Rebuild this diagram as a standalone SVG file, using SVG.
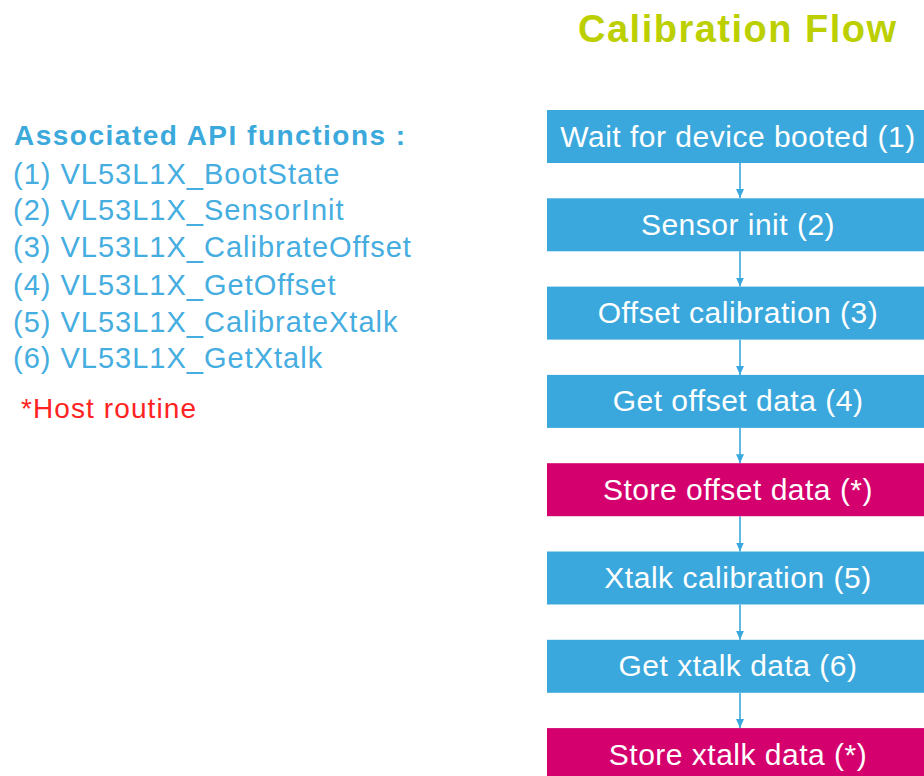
<svg xmlns="http://www.w3.org/2000/svg" width="924" height="776" viewBox="0 0 924 776">
<defs>
<style>
.box{fill:#3aa8dc}
.host{fill:#d4006e}
.bt{font-family:"Liberation Sans",Arial,sans-serif;font-size:30px;letter-spacing:0.5px;fill:#ffffff;text-anchor:middle}
.api{font-family:"Liberation Sans",Arial,sans-serif;font-size:29px;letter-spacing:1px;fill:#45ade0}
.conn{stroke:#3aa8dc;stroke-width:1.6;fill:none}
</style>
<marker id="ah" markerWidth="10" markerHeight="8" refX="9" refY="4" orient="auto" markerUnits="userSpaceOnUse">
<path d="M0,0 L9,4 L0,8 Z" fill="#3aa8dc"/>
</marker>
</defs>
<rect width="924" height="776" fill="#ffffff"/>
<text x="578" y="42" font-family="'Liberation Sans',Arial,sans-serif" font-size="38" font-weight="bold" letter-spacing="1.5" fill="#bccf00">Calibration Flow</text>
<g id="legend">
<text x="14" y="145" font-family="'Liberation Sans',Arial,sans-serif" font-size="28" font-weight="bold" letter-spacing="1.5" fill="#3ca9dc">Associated API functions :</text>
<text class="api" x="13" y="184">(1) VL53L1X_BootState</text>
<text class="api" x="13" y="220">(2) VL53L1X_SensorInit</text>
<text class="api" x="13" y="257">(3) VL53L1X_CalibrateOffset</text>
<text class="api" x="13" y="295">(4) VL53L1X_GetOffset</text>
<text class="api" x="13" y="332">(5) VL53L1X_CalibrateXtalk</text>
<text class="api" x="13" y="368">(6) VL53L1X_GetXtalk</text>
<text x="21" y="418" font-family="'Liberation Sans',Arial,sans-serif" font-size="28" letter-spacing="1.1" fill="#ff2222">*Host routine</text>
</g>
<g id="connectors">
<line class="conn" x1="740" y1="163" x2="740" y2="198" marker-end="url(#ah)"/>
<line class="conn" x1="740" y1="251.3" x2="740" y2="286.6" marker-end="url(#ah)"/>
<line class="conn" x1="740" y1="339.6" x2="740" y2="374.9" marker-end="url(#ah)"/>
<line class="conn" x1="740" y1="427.9" x2="740" y2="463.2" marker-end="url(#ah)"/>
<line class="conn" x1="740" y1="516.2" x2="740" y2="551.5" marker-end="url(#ah)"/>
<line class="conn" x1="740" y1="604.5" x2="740" y2="639.8" marker-end="url(#ah)"/>
<line class="conn" x1="740" y1="692.8" x2="740" y2="728.1" marker-end="url(#ah)"/>
</g>
<g id="n1"><rect class="box" x="547" y="110" width="384" height="53"/><text class="bt" x="738" y="146.5">Wait for device booted (1)</text></g>
<g id="n2"><rect class="box" x="547" y="198.3" width="384" height="53"/><text class="bt" x="738" y="234.8">Sensor init (2)</text></g>
<g id="n3"><rect class="box" x="547" y="286.6" width="384" height="53"/><text class="bt" x="738" y="323.1">Offset calibration (3)</text></g>
<g id="n4"><rect class="box" x="547" y="374.9" width="384" height="53"/><text class="bt" x="738" y="411.4">Get offset data (4)</text></g>
<g id="n5"><rect class="host" x="547" y="463.2" width="384" height="53"/><text class="bt" x="738" y="499.7">Store offset data (*)</text></g>
<g id="n6"><rect class="box" x="547" y="551.5" width="384" height="53"/><text class="bt" x="738" y="588">Xtalk calibration (5)</text></g>
<g id="n7"><rect class="box" x="547" y="639.8" width="384" height="53"/><text class="bt" x="738" y="676.3">Get xtalk data (6)</text></g>
<g id="n8"><rect class="host" x="547" y="728.1" width="384" height="53"/><text class="bt" x="738" y="764.6">Store xtalk data (*)</text></g>
</svg>
